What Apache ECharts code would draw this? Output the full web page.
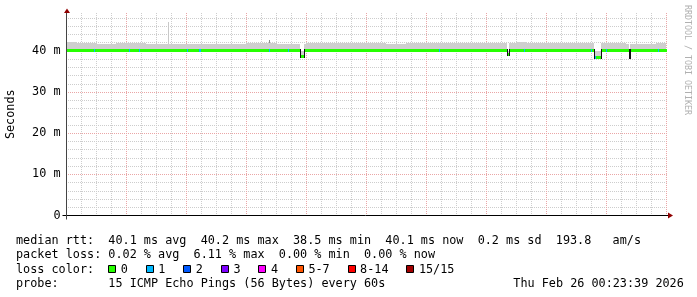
<!DOCTYPE html>
<html><head><meta charset="utf-8">
<script src="https://cdn.jsdelivr.net/npm/echarts@6/dist/echarts.min.js"></script>
<style>html,body{margin:0;padding:0;background:#fff}#c{width:697px;height:297px}</style>
</head><body><div id="c"></div>
<script>
// ---------------- data (hours after Feb 16 00:00) ----------------
const startHour = 0.394;          // Mon Feb 16 00:23:39
const endHour = 240.394;          // Thu Feb 26 00:23:39
const dayLabels = ['16 Feb','17 Feb','18 Feb','19 Feb','20 Feb','21 Feb','22 Feb','23 Feb','24 Feb','25 Feb'];
const yTickLabels = ['0','10 m','20 m','30 m','40 m'];
const yMax = 49.2;

// smoke (min..max rtt, ms) in 4-hour buckets
const smokeBucketHours = 4;
const smokeHigh = [42.1,41.8,41.9,41.7,41.7,41.8,41.8,41.9,41.6,41.6,
                   41.7,41.6,41.7,41.7,41.6,41.6,41.7,41.6,42.0,41.9,
                   41.8,41.7,41.7,41.7,41.9,41.9,41.8,41.9,42.0,42.0,
                   41.8,41.8,41.6,41.7,42.0,42.0,41.9,41.9,41.8,41.9,
                   41.9,42.0,42.0,41.9,42.0,42.1,42.0,42.0,41.9,41.8,
                   41.9,41.9,41.8,42.0,41.8,41.8,41.7,41.7,41.7,41.9];
const smokeLow  = [39.9,39.9,39.9,39.9,39.9,39.9,39.9,39.8,39.9,39.9,
                   39.9,39.9,39.9,39.9,39.9,39.9,39.9,39.9,39.9,39.9,
                   39.9,39.9,39.9,39.9,39.9,39.9,39.9,39.9,39.9,39.9,
                   39.9,39.9,39.9,39.9,39.9,39.9,39.9,39.9,39.9,39.9,
                   39.9,39.9,39.9,39.9,39.9,39.9,39.9,39.9,39.9,39.9,
                   39.9,39.9,39.9,39.9,39.9,39.9,39.9,39.9,39.9,39.9];
// single-sample smoke spikes: [t0, t1, top ms, shade index]
const smokeSpikes = [[41.0, 41.4, 46.9, 0], [81.4, 81.8, 42.7, 1]];
// smoke during the latency dips: [t0, t1, low ms, high ms]
const dipSmoke = [[93.8, 95.4, 38.6, 40.0], [176.4, 177.2, 38.9, 40.0],
                  [211.4, 214.0, 38.4, 40.0], [225.2, 225.8, 38.4, 40.1]];
// median rtt: [t0, t1, ms, loss colour index]
const medianSegments = [
  [0.394, 11.3, 40.1, 0], [11.3, 11.7, 40.1, 1], [11.7, 25.4, 40.1, 0], [25.4, 25.8, 40.1, 1],
  [25.8, 29.4, 40.1, 0], [29.4, 29.8, 40.1, 1], [29.8, 48.7, 40.1, 0], [48.7, 49.1, 40.1, 1],
  [49.1, 53.5, 40.1, 0], [53.5, 54.3, 40.1, 1], [54.3, 81.4, 40.1, 0], [81.4, 81.8, 40.1, 1],
  [81.8, 89.1, 40.1, 0], [89.1, 89.5, 40.1, 1], [89.5, 93.8, 40.1, 0], [93.8, 95.4, 38.7, 0],
  [95.4, 149.5, 40.1, 0], [149.5, 149.9, 40.1, 1], [149.9, 176.4, 40.1, 0], [176.4, 177.2, 39.0, 0],
  [177.2, 183.3, 40.1, 0], [183.3, 183.7, 40.1, 1], [183.7, 210.2, 40.1, 0], [210.2, 210.6, 40.1, 1],
  [210.6, 211.4, 40.1, 0], [211.4, 212.0, 38.5, 1], [212.0, 214.0, 38.5, 0], [214.0, 216.2, 40.1, 0],
  [216.2, 216.6, 40.1, 1], [216.6, 225.2, 40.1, 0], [225.2, 225.8, 38.5, 0], [225.8, 236.9, 40.1, 0],
  [236.9, 237.3, 40.1, 1], [237.3, 240.394, 40.1, 0]
];
const lossLabels = ['0','1','2','3','4','5-7','8-14','15/15'];
const lossColors = ['#26ff00','#00b8ff','#0059ff','#7e00ff','#ff00ff','#ff5500','#ff0000','#a00000'];

const legendRows = [
  'median rtt:  40.1 ms avg  40.2 ms max  38.5 ms min  40.1 ms now  0.2 ms sd  193.8   am/s',
  'packet loss: 0.02 % avg  6.11 % max  0.00 % min  0.00 % now',
  'loss color:',
  'probe:       15 ICMP Echo Pings (56 Bytes) every 60s'
];
const stampText = 'Thu Feb 26 00:23:39 2026';
const yTitle = 'Seconds';
const watermark = 'RRDTOOL / TOBI OETIKER';

// ---------------- styles / layout ----------------
const MONO = '"DejaVu Sans Mono", monospace';
const FS = 11.8;
const CH = FS * 0.6021;
const FONT = FS + 'px ' + MONO;
const smokeColor = '#cfcfcf';
const spikeColors = ['#c8c8c8', '#8c8c8c'];
const minorColor = '#cdcdcd';
const majorColor = '#eaa6a6';
const arrowColor = '#900000';

const smokeData = smokeHigh.map((h, i) => [Math.max(startHour, i * smokeBucketHours), Math.min(endHour, (i + 1) * smokeBucketHours), smokeLow[i], h]);

const chart = echarts.init(document.getElementById('c'), null, {renderer: 'canvas', width: 697, height: 297});

function rectBetween(api, t0, t1, lo, hi) {
  const a = api.coord([t0, hi]), b = api.coord([t1, lo]);
  const x0 = Math.round(a[0]), x1 = Math.round(b[0]);
  const y0 = Math.round(a[1]), y1 = Math.round(b[1]);
  return {x: x0, y: y0, width: Math.max(1, x1 - x0), height: Math.max(0, y1 - y0)};
}

const xBase = {type: 'value', min: startHour, max: endHour, position: 'bottom',
  axisLine: {show: false}, axisTick: {show: false}};
const yBase = {type: 'value', min: 0, max: yMax, position: 'left',
  axisLine: {show: false}, axisTick: {show: false}};
const vDots = c => ({color: c, type: [1, 1], width: 1, dashOffset: 0});
const hDots = c => ({color: c, type: [1, 1], width: 1, dashOffset: 0.5});

const option = {
  backgroundColor: '#ffffff',
  animation: false,
  grid: {left: 66.5, top: 13, width: 600, height: 202.5, containLabel: false},
  xAxis: [
    Object.assign({}, xBase, {interval: 6,
      splitLine: {show: true, showMinLine: false, showMaxLine: false, lineStyle: vDots(minorColor)},
      axisLabel: {show: true, showMinLabel: false, showMaxLabel: false, margin: 4, color: '#000',
        fontFamily: MONO, fontSize: FS,
        formatter: v => { const k = Math.round((v - 12) / 24); return (Math.abs(v - 12 - 24 * k) < 1e-6 && dayLabels[k]) ? dayLabels[k] : ''; }}}),
    Object.assign({}, xBase, {interval: 24, z: 1, axisLabel: {show: false},
      splitLine: {show: true, showMinLine: false, showMaxLine: false, lineStyle: vDots(majorColor)}})
  ],
  yAxis: [
    Object.assign({}, yBase, {interval: 2, axisLabel: {show: false},
      splitLine: {show: true, showMinLine: false, showMaxLine: false, lineStyle: hDots(minorColor)}}),
    Object.assign({}, yBase, {interval: 10, z: 1,
      splitLine: {show: true, showMinLine: false, showMaxLine: false, lineStyle: hDots(majorColor)},
      axisLabel: {show: true, showMaxLabel: false, margin: 6, color: '#000', fontFamily: MONO, fontSize: FS,
        formatter: v => { const k = Math.round(v / 10); return (Math.abs(v - 10 * k) < 1e-6 && yTickLabels[k] !== undefined) ? yTickLabels[k] : ''; }}})
  ],
  series: [
    { type: 'custom', name: 'smoke', z: 2, data: smokeData,
      encode: {x: [0, 1], y: [2, 3]},
      renderItem: (p, api) => ({type: 'rect', shape: rectBetween(api, api.value(0), api.value(1), api.value(2), api.value(3)), style: {fill: smokeColor}}) },
    { type: 'custom', name: 'spikes', z: 2, data: smokeSpikes,
      encode: {x: [0, 1], y: 2},
      renderItem: (p, api) => {
        const t0 = api.value(0), t1 = api.value(1);
        const base = smokeHigh[Math.floor(t0 / smokeBucketHours)];
        return {type: 'rect', shape: rectBetween(api, t0, t1, base, api.value(2)), style: {fill: spikeColors[api.value(3)]}};
      } },
    { type: 'custom', name: 'dipSmoke', z: 3, data: dipSmoke,
      encode: {x: [0, 1], y: [2, 3]},
      renderItem: (p, api) => {
        const t0 = api.value(0), t1 = api.value(1), lo = api.value(2), hi = api.value(3);
        const top = Math.max(smokeHigh[Math.floor(t0 / smokeBucketHours)], smokeHigh[Math.floor(t1 / smokeBucketHours)] || 0);
        return {type: 'group', children: [
          {type: 'rect', shape: rectBetween(api, t0, t1, hi, top), style: {fill: '#ffffff'}},
          {type: 'rect', shape: rectBetween(api, t0, t1, lo, hi), style: {fill: smokeColor}}
        ]};
      } },
    { type: 'custom', name: 'median', z: 4, data: medianSegments,
      encode: {x: [0, 1], y: 2},
      renderItem: (p, api) => {
        const t0 = api.value(0), t1 = api.value(1), v = api.value(2), li = api.value(3);
        const a = api.coord([t0, v]), b = api.coord([t1, v]);
        const x0 = Math.round(a[0]), x1 = Math.round(b[0]);
        const yc = Math.floor(a[1]);
        const children = [{type: 'rect', shape: {x: x0, y: yc - 1, width: Math.max(1, x1 - x0), height: 3}, style: {fill: lossColors[li]}}];
        const prev = medianSegments[p.dataIndex - 1];
        if (prev && prev[2] !== v) {
          const py = Math.floor(api.coord([t0, prev[2]])[1]);
          children.push({type: 'line', shape: {x1: x0 + 0.5, y1: Math.min(py, yc) - 1, x2: x0 + 0.5, y2: Math.max(py, yc) + 2}, style: {stroke: '#111', lineWidth: 1}});
        }
        return {type: 'group', children};
      } }
  ]
};
chart.setOption(option);

// ---------------- axes, arrows and legend text ----------------
const o = chart.convertToPixel({gridIndex: 0}, [startHour, 0]);
const e = chart.convertToPixel({gridIndex: 0}, [endHour, yMax]);
const X0 = o[0], Y0 = o[1], X1 = e[0], YT = e[1];

function txt(text, x, y) {
  return {type: 'text', x, y, z: 20, silent: true,
    style: {text, font: FONT, fill: '#000', align: 'left', verticalAlign: 'middle', textAlign: 'left', textVerticalAlign: 'middle'}};
}

const g = [];
g.push({type: 'line', z: 20, shape: {x1: X0 - 4, y1: Y0, x2: X1 + 2, y2: Y0}, style: {stroke: '#000', lineWidth: 1}});
g.push({type: 'line', z: 20, shape: {x1: X0, y1: Y0 + 4, x2: X0, y2: YT - 1}, style: {stroke: '#444', lineWidth: 1}});
g.push({type: 'polygon', z: 21, shape: {points: [[X1 + 1.5, Y0 - 3], [X1 + 1.5, Y0 + 3], [X1 + 6.5, Y0]]}, style: {fill: arrowColor}});
g.push({type: 'polygon', z: 21, shape: {points: [[X0 - 2.5, YT], [X0 + 3.5, YT], [X0 + 0.5, YT - 4.5]]}, style: {fill: arrowColor}});

// y title and watermark
g.push({type: 'text', x: 10.5, y: (Y0 + YT) / 2, rotation: Math.PI / 2, z: 20,
  style: {text: yTitle, font: FONT, fill: '#000', align: 'center', verticalAlign: 'middle', textAlign: 'center', textVerticalAlign: 'middle'}});
g.push({type: 'text', x: 687, y: 60, rotation: -Math.PI / 2, z: 20,
  style: {text: watermark, font: '8.3px ' + MONO, fill: '#b0b0b0', align: 'center', verticalAlign: 'middle', textAlign: 'center', textVerticalAlign: 'middle'}});

// legend rows
const rowY = [241, 255.3, 269.5, 283.7];
legendRows.forEach((r, i) => g.push(txt(r, 16, rowY[i])));
g.push(txt(stampText, 16 + 70 * CH, rowY[3]));

// loss colour boxes
let bx = 16 + 13 * CH;
lossLabels.forEach((lab, i) => {
  g.push({type: 'rect', z: 20, shape: {x: Math.round(bx) + 0.5, y: 265.5, width: 7, height: 7},
    style: {fill: lossColors[i], stroke: '#000', lineWidth: 1}});
  g.push(txt(lab, bx + 12.5, rowY[2]));
  bx = bx + 12.5 + lab.length * CH + 17.9;
});

chart.setOption({graphic: g});
</script>
</body></html>
